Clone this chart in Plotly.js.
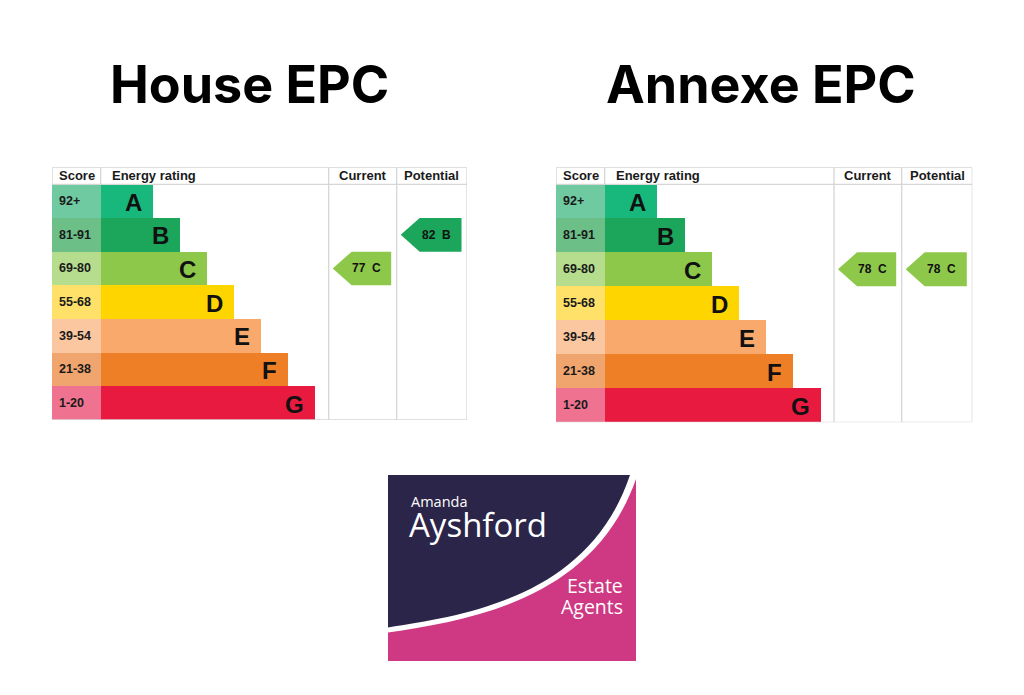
<!DOCTYPE html>
<html>
<head>
<meta charset="utf-8">
<script src="https://cdn.plot.ly/plotly-3.0.1.min.js"></script>
<style>html,body{margin:0;padding:0;background:#fff;}#chart{width:1024px;height:695px;}</style>
</head>
<body>
<div id="chart"></div>
<script>
// ---------- data ----------
const chartTitles = ['House EPC', 'Annexe EPC'];
const bands = ['A', 'B', 'C', 'D', 'E', 'F', 'G'];
const scoreRanges = ['92+', '81-91', '69-80', '55-68', '39-54', '21-38', '1-20'];
const scoreMins = [92, 81, 69, 55, 39, 21, 1];
const bandRank = [1, 2, 3, 4, 5, 6, 7];
const currentScores = [77, 78];
const potentialScores = [82, 78];
const headerLabels = ['Score', 'Energy rating', 'Current', 'Potential'];
const logoLines = ['Amanda', 'Ayshford', 'Estate', 'Agents'];

// ---------- styles ----------
const bandColors = ['#18b77b', '#1ba65b', '#8dc84a', '#ffd500', '#f9a96b', '#ee7f26', '#e81a40'];
const scoreColors = ['#6fc9a1', '#6bbf87', '#b6dc8d', '#ffe169', '#fbc7a0', '#f1a56e', '#ef7390'];
const gridColor = '#d6d6d6';
const W = 1024, H = 695;

// table geometry in page pixels
const geom = [
  {left: 52, right: 467, top: 167.3, bottom: 420, scoreW: 48.7, curL: 276.7, potL: 344.7, aLen: 52.6, step: 27.0},
  {left: 556, right: 972.3, top: 167.3, bottom: 422.3, scoreW: 48.7, curL: 278.0, potL: 345.7, aLen: 52.6, step: 27.2}
];

const data = [];
const shapes = [];
const annotations = [];
const layout = {
  width: W, height: H,
  margin: {l: 0, r: 0, t: 0, b: 0},
  paper_bgcolor: '#fff', plot_bgcolor: 'rgba(0,0,0,0)',
  showlegend: false, hovermode: false, barmode: 'overlay', bargap: 0,
  shapes: shapes, annotations: annotations
};

function bandIndex(score) {
  for (let i = 0; i < scoreMins.length; i++) if (score >= scoreMins[i]) return i;
  return scoreMins.length - 1;
}

geom.forEach((g, c) => {
  const xa = c === 0 ? 'x' : 'x2', ya = c === 0 ? 'y' : 'y2';
  const xk = c === 0 ? 'xaxis' : 'xaxis2', yk = c === 0 ? 'yaxis' : 'yaxis2';
  const Wt = g.right - g.left;
  const rowPx = (g.bottom - (g.top + 17)) / 7;
  const hdrRows = (g.bottom - g.top - rowPx * 7) / rowPx;
  const yTop = -0.5 - hdrRows;
  const axBase = {showgrid: false, zeroline: false, showticklabels: false, showline: false, ticks: '', fixedrange: true};
  layout[xk] = Object.assign({}, axBase, {domain: [g.left / W, g.right / W], range: [0, Wt], anchor: ya});
  layout[yk] = Object.assign({}, axBase, {domain: [1 - g.bottom / H, 1 - g.top / H], range: [6.5, yTop], anchor: xa});

  const rows = bands.map((b, i) => i);
  // score cells
  data.push({type: 'bar', orientation: 'h', xaxis: xa, yaxis: ya, y: rows,
    x: bands.map(() => g.scoreW), base: 0, width: 1,
    marker: {color: scoreColors, line: {width: 0}}, hoverinfo: 'skip'});
  // rating bars
  const lens = bandRank.map(r => g.aLen + (r - 1) * g.step);
  data.push({type: 'bar', orientation: 'h', xaxis: xa, yaxis: ya, y: rows,
    x: lens, base: g.scoreW, width: 1,
    marker: {color: bandColors, line: {width: 0}}, hoverinfo: 'skip'});

  bands.forEach((b, i) => {
    annotations.push({xref: xa, yref: ya, x: g.scoreW + lens[i] - 9, y: i + 0.03, text: '<b>' + b + '</b>',
      showarrow: false, xanchor: 'right', yanchor: 'middle',
      font: {family: 'Liberation Sans, Arial, sans-serif', size: 24, color: '#111'}});
    annotations.push({xref: xa, yref: ya, x: 4.5, y: i, text: '<b>' + scoreRanges[i] + '</b>',
      showarrow: false, xanchor: 'left', yanchor: 'middle',
      font: {family: 'Liberation Sans, Arial, sans-serif', size: 12.5, color: '#1a1a1a'}});
  });

  // header labels
  const hy = -0.5 - hdrRows / 2;
  const hFont = {family: 'Liberation Sans, Arial, sans-serif', size: 13, color: '#1a1a1a'};
  annotations.push({xref: xa, yref: ya, x: 4.5, y: hy, text: '<b>' + headerLabels[0] + '</b>', showarrow: false, xanchor: 'left', yanchor: 'middle', font: hFont});
  annotations.push({xref: xa, yref: ya, x: g.scoreW + 9, y: hy, text: '<b>' + headerLabels[1] + '</b>', showarrow: false, xanchor: 'left', yanchor: 'middle', font: hFont});
  annotations.push({xref: xa, yref: ya, x: (g.curL + g.potL) / 2, y: hy, text: '<b>' + headerLabels[2] + '</b>', showarrow: false, xanchor: 'center', yanchor: 'middle', font: hFont});
  annotations.push({xref: xa, yref: ya, x: (g.potL + Wt) / 2, y: hy, text: '<b>' + headerLabels[3] + '</b>', showarrow: false, xanchor: 'center', yanchor: 'middle', font: hFont});

  // grid lines
  const ln = {color: gridColor, width: 1.3};
  const addLine = (x0, y0, x1, y1) => shapes.push({type: 'line', xref: xa, yref: ya, x0, y0, x1, y1, line: ln, layer: 'above'});
  addLine(0, yTop, Wt, yTop);
  addLine(0, -0.5, Wt, -0.5);
  addLine(0, 6.5, Wt, 6.5);
  addLine(0, yTop, 0, -0.5);
  addLine(g.scoreW, yTop, g.scoreW, -0.5);
  addLine(g.curL, yTop, g.curL, 6.5);
  addLine(g.potL, yTop, g.potL, 6.5);
  addLine(Wt, yTop, Wt, 6.5);

  // arrows
  const arrows = [
    {score: currentScores[c], l: g.curL, r: g.potL},
    {score: potentialScores[c], l: g.potL, r: Wt}
  ];
  arrows.forEach(a => {
    const bi = bandIndex(a.score);
    const tip = a.l + 4, notch = tip + 19, right = a.r - 5.5;
    data.push({type: 'scatter', mode: 'lines', xaxis: xa, yaxis: ya,
      x: [tip, notch, right, right, notch, tip],
      y: [bi, bi - 0.5, bi - 0.5, bi + 0.5, bi + 0.5, bi],
      fill: 'toself', fillcolor: bandColors[bi], line: {width: 0, color: bandColors[bi]}, hoverinfo: 'skip'});
    annotations.push({xref: xa, yref: ya, x: (tip + right) / 2 + 5, y: bi, text: '<b>' + a.score + '  ' + bands[bi] + '</b>',
      showarrow: false, xanchor: 'center', yanchor: 'middle',
      font: {family: 'Liberation Sans, Arial, sans-serif', size: 12, color: '#111'}});
  });

  // title
  annotations.push({xref: 'paper', yref: 'paper', x: (c === 0 ? 249.5 : 761) / W, y: 1 - 84.5 / H,
    text: '<b>' + chartTitles[c] + '</b>', showarrow: false, xanchor: 'center', yanchor: 'middle',
    font: {family: 'Inter, Liberation Sans, sans-serif', size: 52, color: '#000'}});
});

// ---------- logo (page pixel helper into paper coords) ----------
const P = (x, y) => (x / W).toFixed(5) + ',' + (1 - y / H).toFixed(5);
shapes.push({type: 'rect', xref: 'paper', yref: 'paper', x0: 388 / W, x1: 636 / W, y0: 1 - 661 / H, y1: 1 - 475 / H,
  fillcolor: '#cf3882', line: {width: 0}, layer: 'above'});
shapes.push({type: 'path', xref: 'paper', yref: 'paper', layer: 'above', fillcolor: '#ffffff', line: {width: 0},
  path: 'M' + P(388, 475) + ' L' + P(636, 475) + ' L' + P(636, 479) + ' C' + P(594, 599) + ' ' + P(472, 620) + ' ' + P(388, 632.5) + ' Z'});
shapes.push({type: 'path', xref: 'paper', yref: 'paper', layer: 'above', fillcolor: '#2b2549', line: {width: 0},
  path: 'M' + P(388, 475) + ' L' + P(630, 475) + ' C' + P(590, 595) + ' ' + P(470, 615) + ' ' + P(388, 627.5) + ' Z'});

const logoFont = (s) => ({family: 'Open Sans, Lato, sans-serif', size: s, color: '#ffffff'});
annotations.push({xref: 'paper', yref: 'paper', x: 409 / W, y: 1 - 501 / H, text: logoLines[0], showarrow: false, xanchor: 'left', yanchor: 'middle', font: logoFont(14.5)});
annotations.push({xref: 'paper', yref: 'paper', x: 407 / W, y: 1 - 524 / H, text: logoLines[1], showarrow: false, xanchor: 'left', yanchor: 'middle', font: logoFont(33)});
annotations.push({xref: 'paper', yref: 'paper', x: 625 / W, y: 1 - 585.5 / H, text: logoLines[2], showarrow: false, xanchor: 'right', yanchor: 'middle', font: logoFont(19.5)});
annotations.push({xref: 'paper', yref: 'paper', x: 625 / W, y: 1 - 606 / H, text: logoLines[3], showarrow: false, xanchor: 'right', yanchor: 'middle', font: logoFont(19.5)});

Plotly.newPlot('chart', data, layout, {staticPlot: true, displayModeBar: false});
</script>
</body>
</html>
